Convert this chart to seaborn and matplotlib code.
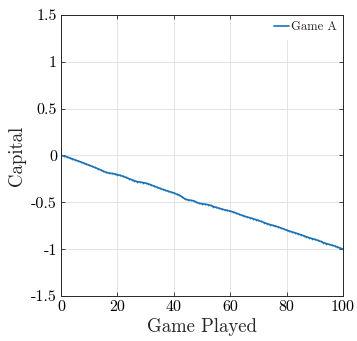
import numpy as np
import pandas as pd
import matplotlib
matplotlib.use('Agg')
import matplotlib.pyplot as plt
import seaborn as sns

# Dados
jogos = list(range(0, 101))
capital = [
    0.000, -0.006, -0.014, -0.025, -0.036, -0.047, -0.058, -0.069, -0.081, -0.093,
    -0.104, -0.116, -0.128, -0.141, -0.153, -0.168, -0.180, -0.188, -0.192, -0.197,
    -0.204, -0.213, -0.222, -0.234, -0.246, -0.258, -0.270, -0.279, -0.284, -0.289,
    -0.295, -0.303, -0.315, -0.327, -0.339, -0.351, -0.362, -0.372, -0.381, -0.391,
    -0.400, -0.412, -0.425, -0.443, -0.465, -0.474, -0.479, -0.484, -0.498, -0.510,
    -0.515, -0.520, -0.524, -0.533, -0.545, -0.554, -0.563, -0.572, -0.580, -0.587,
    -0.594, -0.603, -0.614, -0.626, -0.637, -0.648, -0.657, -0.665, -0.674, -0.684,
    -0.694, -0.704, -0.716, -0.727, -0.737, -0.746, -0.754, -0.763, -0.774, -0.785,
    -0.797, -0.808, -0.817, -0.826, -0.836, -0.846, -0.857, -0.868, -0.878, -0.887,
    -0.896, -0.906, -0.917, -0.929, -0.940, -0.949, -0.957, -0.966, -0.977, -0.989,
    -1.000,
]
serie = 'Game A'
xticks = [0, 20, 40, 60, 80, 100]
yticks = [-1.5, -1, -0.5, 0, 0.5, 1, 1.5]
ytick_labels = ['-1.5', '-1', '-0.5', '0', '0.5', '1', '1.5']

sns.set_style('ticks')
plt.rcParams['font.family'] = 'serif'
plt.rcParams['font.serif'] = ['cmr10', 'DejaVu Serif']
plt.rcParams['axes.unicode_minus'] = False
plt.rcParams['mathtext.fontset'] = 'cm'

df = pd.DataFrame({'Game Played': jogos, 'Capital': capital, 'serie': serie})

fig = plt.figure(figsize=(3.57, 3.41), dpi=100)
ax = fig.add_axes([0.171, 0.132, 0.790, 0.824])

sns.lineplot(data=df, x='Game Played', y='Capital', hue='serie',
             palette=['#1a72b8'], linewidth=1.2, marker='.', markersize=2.5,
             markeredgewidth=0, ax=ax)

ax.set_xlim(0, 100)
ax.set_ylim(-1.5, 1.5)
ax.set_xticks(xticks)
ax.set_xticklabels([str(t) for t in xticks])
ax.set_yticks(yticks)
ax.set_yticklabels(ytick_labels)
ax.tick_params(direction='in', length=3, width=0.6, labelsize=11.5,
               top=True, right=True, colors='#262626', labelcolor='black', pad=3)
ax.grid(True, color='#e3e3e3', linewidth=0.7)
for s in ax.spines.values():
    s.set_visible(True)
    s.set_color('#262626')
    s.set_linewidth(0.7)
    s.set_zorder(6)
ax.set_xlabel('Game Played', fontsize=13.5, labelpad=3)
ax.set_ylabel('Capital', fontsize=13.5, labelpad=4)

leg = ax.legend(loc='upper right', fontsize=9, frameon=True, fancybox=False,
                framealpha=1, handlelength=1.2, handletextpad=0.2, borderpad=0.5,
                borderaxespad=0.0)
leg.get_frame().set_edgecolor('none')
leg.set_zorder(5)
for h in leg.get_lines():
    h.set_marker('')

fig.savefig('out.png', dpi=100)
